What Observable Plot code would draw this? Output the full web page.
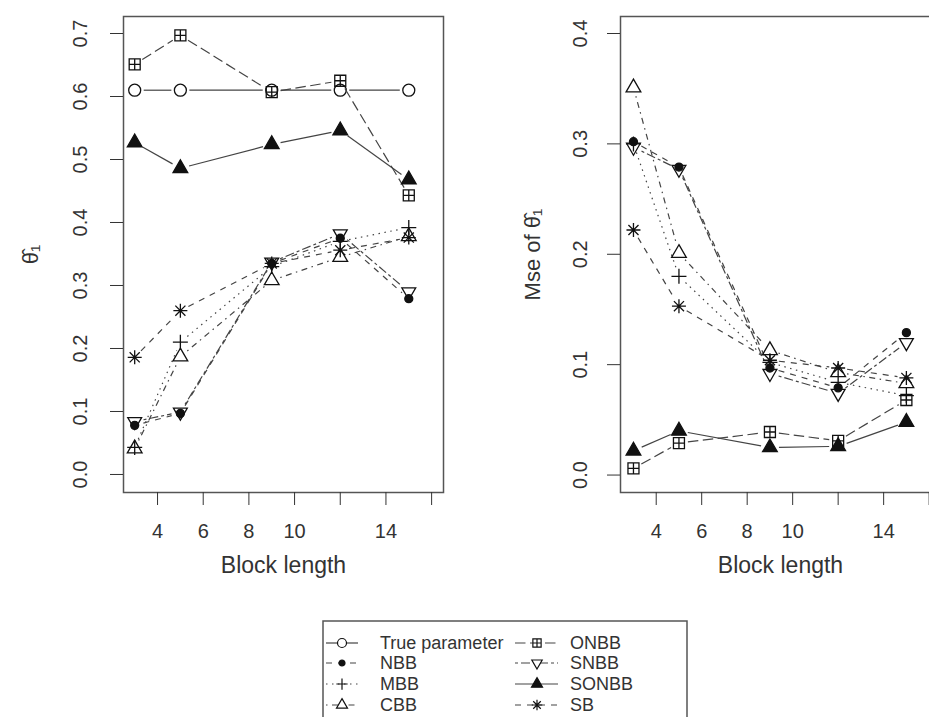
<!DOCTYPE html>
<html><head><meta charset="utf-8">
<script src="https://cdn.jsdelivr.net/npm/d3@7"></script>
<script src="https://cdn.jsdelivr.net/npm/@observablehq/plot@0.6"></script>
<style>
body{margin:0;background:#fff;font-family:"Liberation Sans",Arial,sans-serif;}
#wrap{position:relative;width:929px;height:717px;overflow:hidden;background:#fff;}
#row{display:flex;align-items:flex-start;}
#row svg{flex:none;}
#legend{position:absolute;left:0;top:610px;}
</style></head><body>
<div id="wrap"><div id="row"></div><svg id="legend" width="929" height="107"></svg></div>
<script>
// ---------- data ----------
const blockLengths = [3, 5, 9, 12, 15];
const seriesNames = ["True parameter", "NBB", "MBB", "CBB", "ONBB", "SNBB", "SONBB", "SB"];

// left panel: estimates of theta_1
const estTrue  = [0.61, 0.61, 0.61, 0.61, 0.61];
const estNBB   = [0.078, 0.097, 0.335, 0.375, 0.279];
const estMBB   = [0.043, 0.210, 0.330, 0.370, 0.392];
const estCBB   = [0.041, 0.187, 0.308, 0.345, 0.378];
const estONBB  = [0.651, 0.697, 0.607, 0.625, 0.443];
const estSNBB  = [0.084, 0.099, 0.337, 0.382, 0.290];
const estSONBB = [0.527, 0.486, 0.524, 0.546, 0.468];
const estSB    = [0.186, 0.260, 0.335, 0.356, 0.376];

// right panel: MSE of theta_1
const mseNBB   = [0.302, 0.279, 0.097, 0.079, 0.129];
const mseMBB   = [0.300, 0.180, 0.102, 0.084, 0.072];
const mseCBB   = [0.351, 0.201, 0.113, 0.093, 0.083];
const mseONBB  = [0.006, 0.029, 0.039, 0.031, 0.068];
const mseSNBB  = [0.297, 0.277, 0.092, 0.074, 0.120];
const mseSONBB = [0.022, 0.040, 0.025, 0.026, 0.048];
const mseSB    = [0.222, 0.153, 0.104, 0.097, 0.088];

const xTicks = [4, 6, 8, 10, 12, 14, 16];
const xTickLabels = ["4", "6", "8", "10", "", "14", ""];
const yTicksLeft = [0, 0.1, 0.2, 0.3, 0.4, 0.5, 0.6, 0.7];
const yTicksRight = [0, 0.1, 0.2, 0.3, 0.4];
const xTitle = "Block length";
const yTitleLeft = "θ\u0302\u2081";
const yTitleRight = "Mse of θ\u0302\u2081";

// ---------- symbols ----------
const rad = size => Math.sqrt(size / Math.PI);
const sym = {
  circle: {draw(c, s) { const r = rad(s); c.moveTo(r, 0); c.arc(0, 0, r, 0, 2 * Math.PI); }},
  plus: {draw(c, s) { const r = rad(s); c.moveTo(-r, 0); c.lineTo(r, 0); c.moveTo(0, -r); c.lineTo(0, r); }},
  triUp: {draw(c, s) { const r = rad(s); c.moveTo(0, -r); c.lineTo(0.866 * r, 0.5 * r); c.lineTo(-0.866 * r, 0.5 * r); c.closePath(); }},
  triDown: {draw(c, s) { const r = rad(s); c.moveTo(0, r); c.lineTo(0.866 * r, -0.5 * r); c.lineTo(-0.866 * r, -0.5 * r); c.closePath(); }},
  sqPlus: {draw(c, s) { const r = rad(s); c.rect(-r, -r, 2 * r, 2 * r); c.moveTo(-r, 0); c.lineTo(r, 0); c.moveTo(0, -r); c.lineTo(0, r); }},
  star: {draw(c, s) { const r = rad(s), d = r * 0.72; c.moveTo(-r, 0); c.lineTo(r, 0); c.moveTo(0, -r); c.lineTo(0, r); c.moveTo(-d, -d); c.lineTo(d, d); c.moveTo(-d, d); c.lineTo(d, -d); }}
};
const styles = {
  "True parameter": {symbol: sym.circle, r: 6, fill: "none", dash: null},
  NBB:   {symbol: sym.circle, r: 4, fill: "#111", dash: "6,6"},
  MBB:   {symbol: sym.plus, r: 7.5, fill: "none", dash: "1.5,4.5"},
  CBB:   {symbol: sym.triUp, r: 8.5, fill: "none", dash: "1.5,4.5,6,4.5"},
  ONBB:  {symbol: sym.sqPlus, r: 5.5, fill: "none", dash: "10.5,4.5"},
  SNBB:  {symbol: sym.triDown, r: 8, fill: "none", dash: "3,3,9,3"},
  SONBB: {symbol: sym.triUp, r: 8.5, fill: "#111", dash: null},
  SB:    {symbol: sym.star, r: 7, fill: "none", dash: "6,6"}
};
const LINE = "#444", INK = "#111", TXT = "#333";
const xLabelOf = new Map(xTicks.map((t, i) => [t, xTickLabels[i]]));

function panel(series, o) {
  const marks = [];
  for (const [name, vals] of series) {
    const st = styles[name];
    const pts = vals.map((v, i) => ({x: blockLengths[i], y: v}));
    const segs = pts.slice(1).map((p, i) => ({x1: pts[i].x, y1: pts[i].y, x2: p.x, y2: p.y}));
    marks.push(Plot.arrow(segs, {x1: "x1", y1: "y1", x2: "x2", y2: "y2", headLength: 0, inset: 9,
      stroke: LINE, strokeWidth: 1.2, strokeDasharray: st.dash || undefined, strokeLinecap: "butt"}));
    marks.push(Plot.dot(pts, {x: "x", y: "y", symbol: st.symbol, r: st.r, fill: st.fill,
      stroke: INK, strokeWidth: 1.3}));
  }
  marks.push(
    Plot.frame({stroke: "#555", strokeWidth: 1.5}),
    Plot.axisX({ticks: xTicks, tickSize: 13, tickPadding: 18, tickFormat: d => xLabelOf.get(d),
      fontSize: 20, label: null, color: TXT}),
    Plot.axisY({ticks: o.yTicks, tickSize: 13, tickFormat: () => "", label: null, color: TXT}),
    Plot.text(o.yTicks, {y: d => d, frameAnchor: "left", dx: o.tickDx, rotate: -90, text: d => d.toFixed(1),
      fontSize: 20, fill: TXT, textAnchor: "middle", lineAnchor: "middle"}),
    Plot.text([o.yTitle], {frameAnchor: "left", dx: o.titleDx, rotate: -90, text: d => d, fontSize: 22,
      fill: TXT, textAnchor: "middle", lineAnchor: "middle"}),
    Plot.text([xTitle], {frameAnchor: "bottom", dy: 73, text: d => d, fontSize: 23, fill: TXT,
      textAnchor: "middle", lineAnchor: "middle"})
  );
  return Plot.plot({
    width: o.width, height: 610,
    marginTop: 16, marginBottom: 118, marginLeft: o.marginLeft, marginRight: o.marginRight,
    x: {domain: o.xDomain}, y: {domain: o.yDomain},
    style: {fontFamily: "'Liberation Sans', Arial, sans-serif", background: "white", overflow: "visible"},
    marks
  });
}

const left = panel([
  ["True parameter", estTrue], ["NBB", estNBB], ["MBB", estMBB], ["CBB", estCBB],
  ["ONBB", estONBB], ["SNBB", estSNBB], ["SONBB", estSONBB], ["SB", estSB]
], {width: 465, marginLeft: 123, marginRight: 22, xDomain: [2.51, 16.52], yDomain: [-0.0286, 0.727],
    yTicks: yTicksLeft, tickDx: -43, titleDx: -93, yTitle: yTitleLeft});

const right = panel([
  ["NBB", mseNBB], ["MBB", mseMBB], ["CBB", mseCBB],
  ["ONBB", mseONBB], ["SNBB", mseSNBB], ["SONBB", mseSONBB], ["SB", mseSB]
], {width: 480, marginLeft: 155, marginRight: 5, xDomain: [2.43, 16.5], yDomain: [-0.0158, 0.4154],
    yTicks: yTicksRight, tickDx: -40, titleDx: -88, yTitle: yTitleRight});

document.getElementById("row").append(left, right);

// ---------- legend ----------
const leg = d3.select("#legend");
leg.append("rect").attr("x", 323).attr("y", 11).attr("width", 364).attr("height", 130)
  .attr("fill", "white").attr("stroke", "#555").attr("stroke-width", 1.5);
const cols = [{x0: 326, x1: 358, sx: 342, tx: 380}, {x0: 515, x1: 558, sx: 537, tx: 570}];
const rowsY = [33, 53, 74, 95];
seriesNames.forEach((name, i) => {
  const c = cols[Math.floor(i / 4)], y = rowsY[i % 4], st = styles[name];
  leg.append("line").attr("x1", c.x0).attr("x2", c.x1).attr("y1", y).attr("y2", y)
    .attr("stroke", LINE).attr("stroke-width", 1.2).attr("stroke-dasharray", st.dash || null);
  const rr = st.r * 0.75;
  leg.append("path").attr("transform", `translate(${c.sx},${y})`)
    .attr("d", d3.symbol(st.symbol, Math.PI * rr * rr)())
    .attr("fill", st.fill === "none" ? "white" : st.fill).attr("stroke", INK).attr("stroke-width", 1.2);
  leg.append("text").attr("x", c.tx).attr("y", y).attr("dy", "0.35em").attr("font-size", 18)
    .attr("fill", TXT).text(name);
});
</script>
</body></html>
